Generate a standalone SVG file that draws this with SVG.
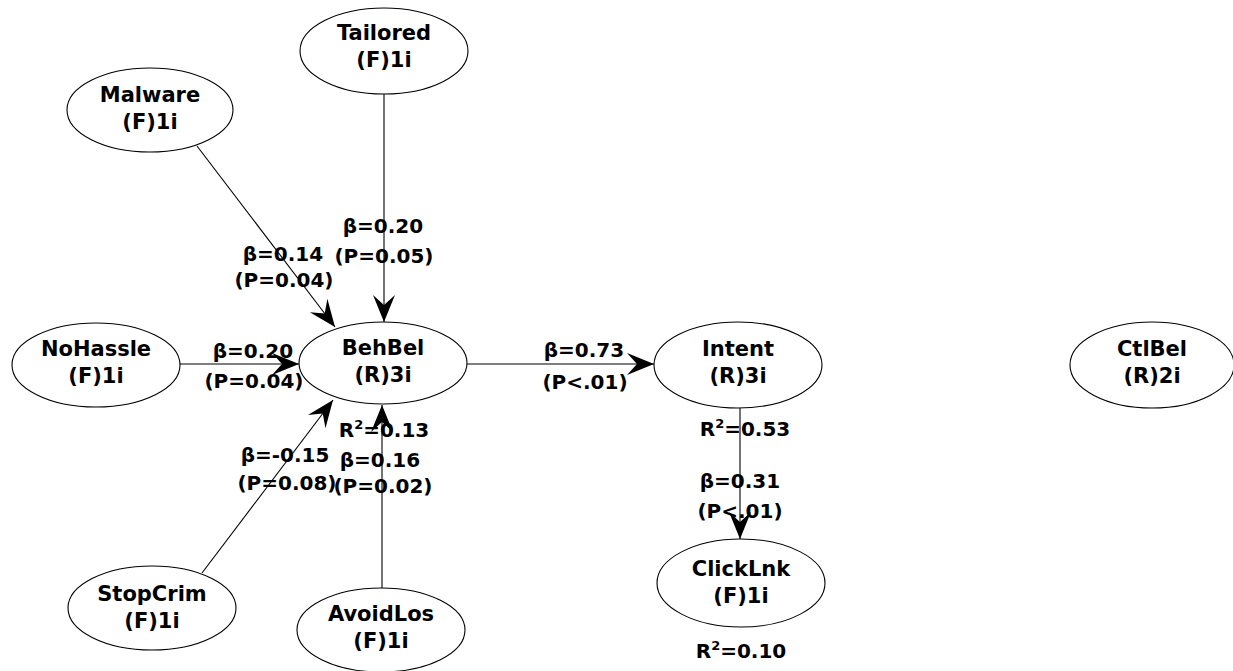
<svg xmlns="http://www.w3.org/2000/svg" width="1233" height="671" viewBox="0 0 1233 671">
  <style>
    .node ellipse { fill: #ffffff; stroke: #000000; stroke-width: 1.1; }
    .node text, .lbl { font-family: "DejaVu Sans", "Liberation Sans", Arial, sans-serif; font-weight: bold; font-size: 21px; fill: #000000; text-anchor: middle; }
    .lbl { font-size: 20px; }
    .edge { stroke: #000000; stroke-width: 1.1; fill: none; marker-end: url(#arrow); }
    .lbl tspan.sup { font-size: 13px; }
  </style>
  <defs>
    <marker id="arrow" viewBox="-28 -12 29 24" refX="0" refY="0" markerWidth="29" markerHeight="24" markerUnits="userSpaceOnUse" orient="auto">
      <path d="M0,0 L-27,-11 L-17,0 L-27,11 Z" fill="#000000"/>
    </marker>
  </defs>
  <rect width="1233" height="671" fill="#ffffff"/>

  <!-- paths between constructs -->
  <g id="connectors">
    <line class="edge" x1="384" y1="94" x2="384" y2="322"/>
    <line class="edge" x1="197" y1="146" x2="335" y2="327"/>
    <line class="edge" x1="180" y1="364" x2="299" y2="364"/>
    <line class="edge" x1="202" y1="573" x2="333" y2="400"/>
    <line class="edge" x1="382" y1="588" x2="382" y2="405"/>
    <line class="edge" x1="467" y1="364" x2="654" y2="364"/>
    <line class="edge" x1="740" y1="408" x2="740" y2="539"/>
  </g>

  <!-- path coefficients and R-squared values -->
  <g id="labels">
    <text class="lbl" x="383" y="233">β=0.20</text>
    <text class="lbl" x="384" y="263">(P=0.05)</text>
    <text class="lbl" x="283" y="261">β=0.14</text>
    <text class="lbl" x="284" y="287">(P=0.04)</text>
    <text class="lbl" x="253" y="358">β=0.20</text>
    <text class="lbl" x="254" y="388">(P=0.04)</text>
    <text class="lbl" x="584" y="357">β=0.73</text>
    <text class="lbl" x="585" y="389">(P&lt;.01)</text>
    <text class="lbl" x="384" y="437">R<tspan class="sup" dy="-8">2</tspan><tspan dy="8">=0.13</tspan></text>
    <text class="lbl" x="285" y="462">β=-0.15</text>
    <text class="lbl" x="287" y="490">(P=0.08)</text>
    <text class="lbl" x="380" y="467">β=0.16</text>
    <text class="lbl" x="383" y="493">(P=0.02)</text>
    <text class="lbl" x="745" y="436">R<tspan class="sup" dy="-8">2</tspan><tspan dy="8">=0.53</tspan></text>
    <text class="lbl" x="740" y="488">β=0.31</text>
    <text class="lbl" x="740" y="518">(P&lt;.01)</text>
    <text class="lbl" x="741" y="658">R<tspan class="sup" dy="-8">2</tspan><tspan dy="8">=0.10</tspan></text>
  </g>

  <g id="tailored" class="node">
    <ellipse cx="384" cy="51" rx="84" ry="43"/>
    <text x="384" y="40">Tailored</text>
    <text x="384" y="67">(F)1i</text>
  </g>
  <g id="malware" class="node">
    <ellipse cx="150" cy="110" rx="83" ry="42"/>
    <text x="150" y="102">Malware</text>
    <text x="150" y="129">(F)1i</text>
  </g>
  <g id="nohassle" class="node">
    <ellipse cx="96" cy="365" rx="84" ry="42"/>
    <text x="96" y="356">NoHassle</text>
    <text x="96" y="383">(F)1i</text>
  </g>
  <g id="behbel" class="node">
    <ellipse cx="383" cy="363" rx="84" ry="41"/>
    <text x="383" y="355">BehBel</text>
    <text x="383" y="382">(R)3i</text>
  </g>
  <g id="intent" class="node">
    <ellipse cx="738" cy="365" rx="84" ry="43"/>
    <text x="738" y="356">Intent</text>
    <text x="738" y="383">(R)3i</text>
  </g>
  <g id="ctlbel" class="node">
    <ellipse cx="1152" cy="365" rx="82" ry="43"/>
    <text x="1152" y="356">CtlBel</text>
    <text x="1152" y="383">(R)2i</text>
  </g>
  <g id="clicklnk" class="node">
    <ellipse cx="741" cy="583" rx="84" ry="44"/>
    <text x="741" y="576">ClickLnk</text>
    <text x="741" y="603">(F)1i</text>
  </g>
  <g id="stopcrim" class="node">
    <ellipse cx="152" cy="608" rx="84" ry="42"/>
    <text x="152" y="601">StopCrim</text>
    <text x="152" y="628">(F)1i</text>
  </g>
  <g id="avoidlos" class="node">
    <ellipse cx="381" cy="630" rx="84" ry="42"/>
    <text x="381" y="621">AvoidLos</text>
    <text x="381" y="648">(F)1i</text>
  </g>
</svg>
